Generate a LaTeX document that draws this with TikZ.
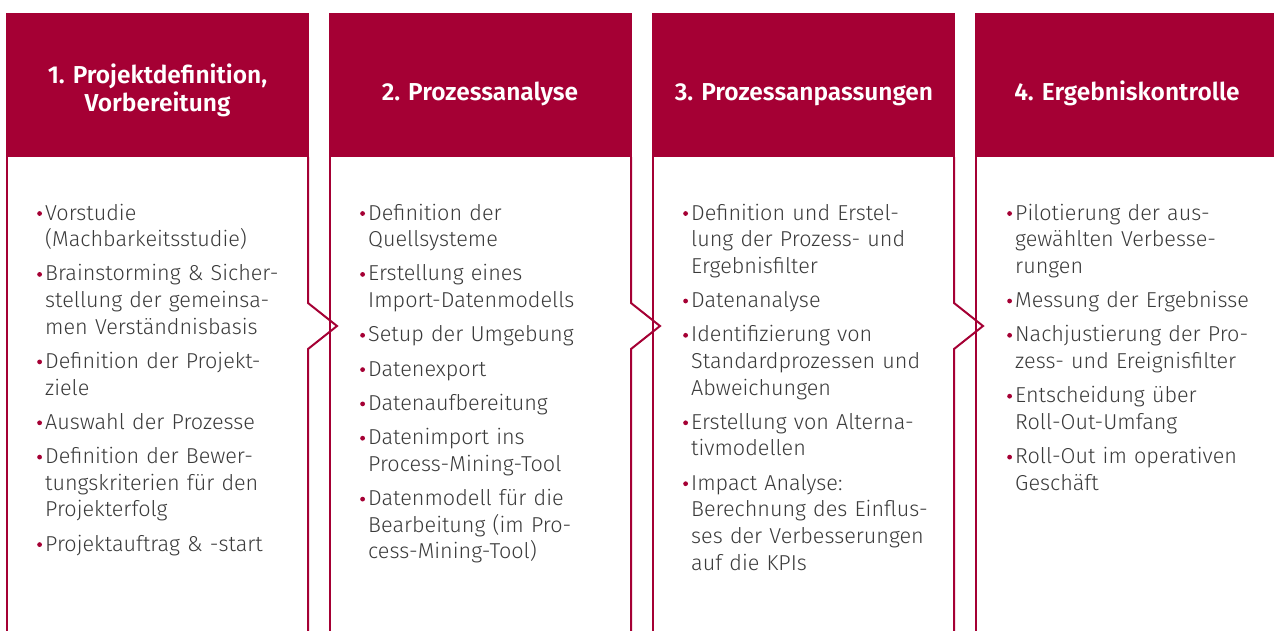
\documentclass[tikz,border=0pt]{standalone}
\usepackage{fontspec}
\setmainfont{Fira Sans}[UprightFont={* Light}, BoldFont={* SemiBold}]
\definecolor{brand}{HTML}{A50034}
\definecolor{ink}{HTML}{3A3A3A}
% red round bullet hanging left of each list entry
\newcommand\bul{\leavevmode\llap{\tikz[baseline=0pt,x=1pt,y=1pt]{\fill[brand] (0,6.5) circle (2.4pt);}\hspace{3.2pt}}}
\tikzset{
  header/.style={fill=brand, draw=none, minimum width=303pt, minimum height=144pt, inner sep=0pt, anchor=north west},
  htext/.style={text=white, font=\bfseries\fontsize{24.5}{28.5}\selectfont, align=center, anchor=base, inner sep=0pt},
  outline/.style={draw=brand, line width=2pt},
  list/.style={text=ink, font=\fontsize{21.6}{26.6}\selectfont, align=left, text width=262pt, inner sep=0pt, anchor=base west},
}
\begin{document}
\begin{tikzpicture}[x=1pt,y=-1pt]
\useasboundingbox (0,0) rectangle (1274,630);
\clip (0,0) rectangle (1274,630);

% four phase columns: header block and open outline with a chevron on the right
\foreach \i/\l in {1/7,2/330,3/653,4/976}{
  \node[header] (h\i) at (\l-1,13) {};
  \draw[outline] (\l,157) -- (\l,632);
  \draw[outline] (\l+301,157) -- (\l+301,303) -- (\l+330,326) -- (\l+301,349) -- (\l+301,632);
}

\node[htext] (t1) at (157.5,111.5) {1. Projektdefinition,\\Vorbereitung};
\node[htext] (t2) at (480,100.5) {2. Prozessanalyse};
\node[htext] (t3) at (804,100.5) {3. Prozessanpassungen};
\node[htext] (t4) at (1127,100.5) {4. Ergebniskontrolle};

\node[list] (b1) at (45,220) {%
\bul Vorstudie\\(Machbarkeitsstudie)\\[7.7pt]
\bul Brainstorming \& Sicher-\\stellung der gemeinsa-\\men Verständnisbasis\\[7.7pt]
\bul Definition der Projekt-\\ziele\\[7.7pt]
\bul Auswahl der Prozesse\\[7.7pt]
\bul Definition der Bewer-\\tungskriterien für den\\Projekterfolg\\[7.7pt]
\bul Projektauftrag \& -start};

\node[list] (b2) at (368,220) {%
\bul Definition der\\Quellsysteme\\[7.7pt]
\bul Erstellung eines\\Import-Datenmodells\\[7.7pt]
\bul Setup der Umgebung\\[7.7pt]
\bul Datenexport\\[7.7pt]
\bul Datenaufbereitung\\[7.7pt]
\bul Datenimport ins\\Process-Mining-Tool\\[7.7pt]
\bul Datenmodell für die\\Bearbeitung (im Pro-\\cess-Mining-Tool)};

\node[list] (b3) at (691,220) {%
\bul Definition und Erstel-\\lung der Prozess- und\\Ergebnisfilter\\[7.7pt]
\bul Datenanalyse\\[7.7pt]
\bul Identifizierung von\\Standardprozessen und\\Abweichungen\\[7.7pt]
\bul Erstellung von Alterna-\\tivmodellen\\[7.7pt]
\bul Impact Analyse:\\Berechnung des Einflus-\\ses der Verbesserungen\\auf die KPIs};

\node[list] (b4) at (1015,220) {%
\bul Pilotierung der aus-\\gewählten Verbesse-\\rungen\\[7.7pt]
\bul Messung der Ergebnisse\\[7.7pt]
\bul Nachjustierung der Pro-\\zess- und Ereignisfilter\\[7.7pt]
\bul Entscheidung über\\Roll-Out-Umfang\\[7.7pt]
\bul Roll-Out im operativen\\Geschäft};
\end{tikzpicture}
\end{document}
